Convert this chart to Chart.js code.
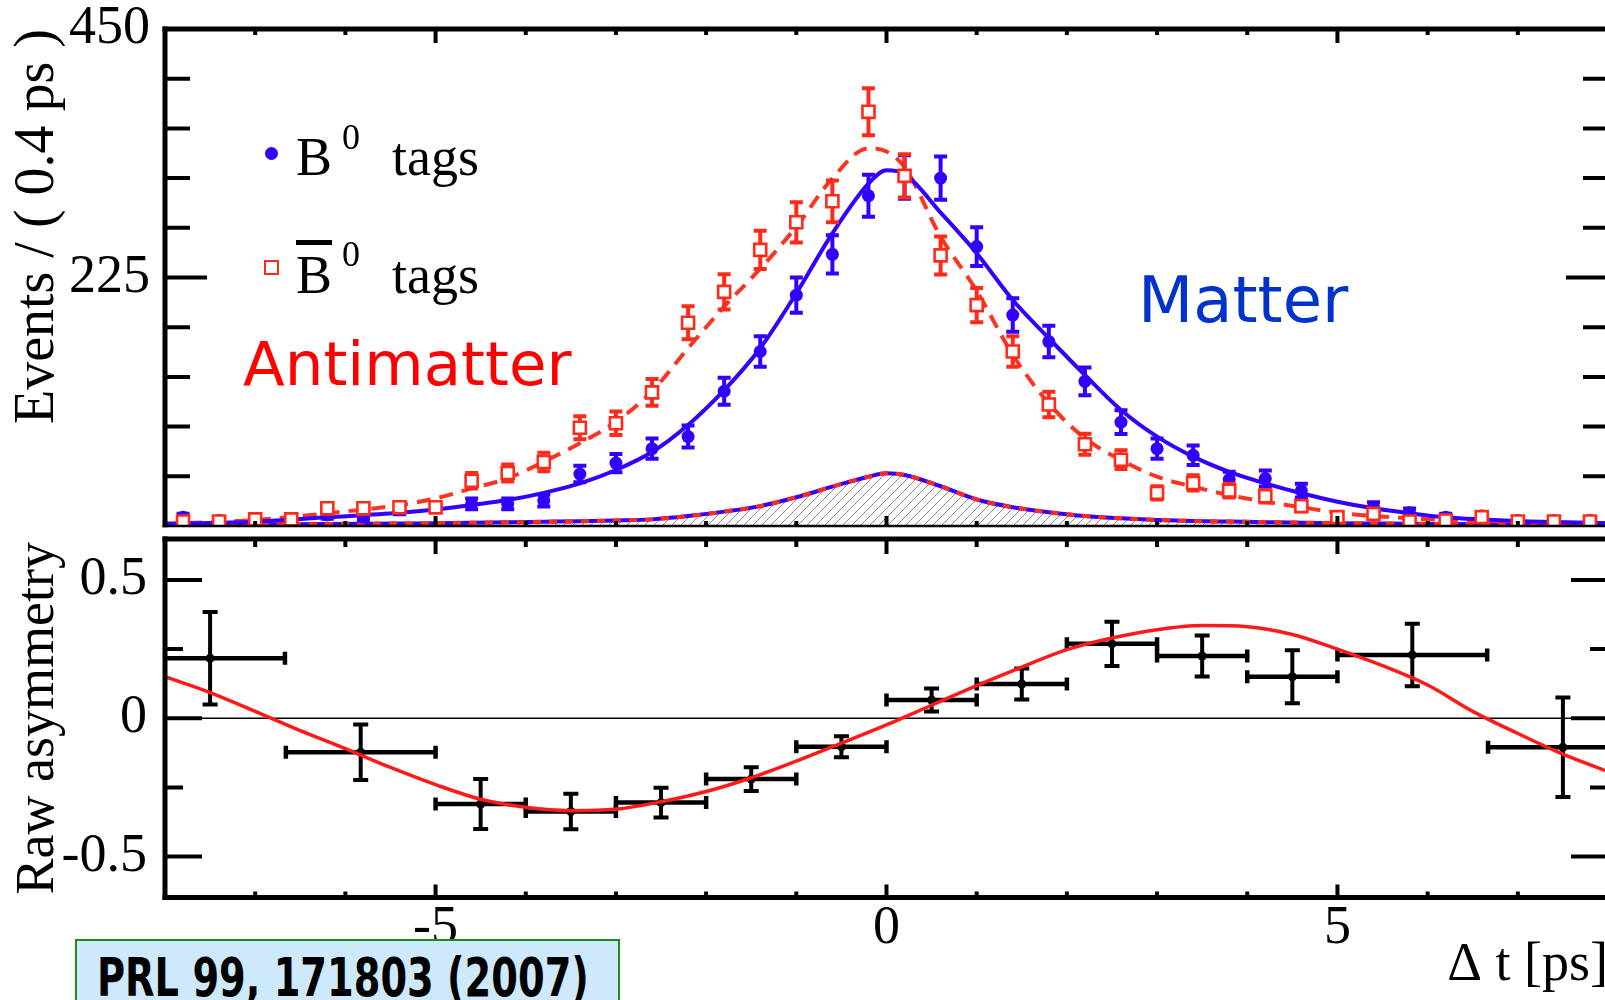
<!DOCTYPE html>
<html>
<head>
<meta charset="utf-8">
<script src="https://cdn.jsdelivr.net/npm/chart.js@4.4.1/dist/chart.umd.min.js"></script>
<style>
  html, body { margin: 0; padding: 0; background: #fff; width: 1605px; height: 1000px; overflow: hidden; }
  canvas { position: absolute; left: 0; top: 0; }
  .t { position: absolute; white-space: nowrap; line-height: 1; }
  .serif { font-family: 'Liberation Serif', 'DejaVu Serif', serif; color: #000; }
  .big { font-size: 54px; }
  .sup { font-size: 36px; }
  .hand { font-family: 'DejaVu Sans', sans-serif; }
  #ref { position: absolute; left: 75px; top: 939px; width: 541px; height: 80px;
         background: #cde9fb; border: 2px solid #1f8a1f; }
  #ref span { position: absolute; left: 20px; top: 10px; font: bold 54px/1 'DejaVu Sans', sans-serif;
              transform: scaleX(0.71); transform-origin: 0 0; color: #000; white-space: nowrap; }
</style>
</head>
<body>
<canvas id="rateChart" width="1620" height="1000" style="width:1620px;height:1000px"></canvas>
<canvas id="asymChart" width="1620" height="1000" style="width:1620px;height:1000px"></canvas>

<!-- legend -->
<div class="t" style="left:265px;top:147px;width:13px;height:13px;border-radius:50%;background:#3300ff"></div>
<div class="t serif big" style="left:296px;top:130px">B</div>
<div class="t serif sup" style="left:342px;top:119px">0</div>
<div class="t serif big" style="left:392px;top:130px">tags</div>
<div class="t" style="left:264px;top:260px;width:15px;height:15px;box-sizing:border-box;border:2.6px solid #ff2a1a;background:#fff"></div>
<div class="t serif big" style="left:296px;top:248px;text-decoration:overline;text-decoration-thickness:5px">B</div>
<div class="t serif sup" style="left:342px;top:236px">0</div>
<div class="t serif big" style="left:392px;top:248px">tags</div>

<div class="t hand" style="left:243px;top:333px;font-size:61px;color:#ff0000">Antimatter</div>
<div class="t hand" style="left:1138px;top:268px;font-size:64px;color:#0033cc">Matter</div>

<div id="ref"><span>PRL 99, 171803 (2007)</span></div>

<script>
const SERIF = "'Liberation Serif', 'DejaVu Serif', serif";
const BLUE = '#3300ff';
const RED = '#ff2a1a';

// 0.4 ps bins
const binCentres = [-7.8, -7.4, -7.0, -6.6, -6.2, -5.8, -5.4, -5.0, -4.6, -4.2, -3.8, -3.4, -3.0, -2.6, -2.2, -1.8, -1.4, -1.0, -0.6, -0.2,
                    0.2, 0.6, 1.0, 1.4, 1.8, 2.2, 2.6, 3.0, 3.4, 3.8, 4.2, 4.6, 5.0, 5.4, 5.8, 6.2, 6.6, 7.0, 7.4, 7.8];
const b0Tags = [8, 5, 3, 4, 10, 8, 15, 17, 20, 20, 23, 47, 57, 70, 81, 122, 158, 209, 246, 299,
                316, 315, 253, 191, 167, 131, 94, 70, 64, 42, 43, 32, 8, 17, 12, 8, 9, 5, 5, 5];
const b0Err = [3.1, 2.5, 1.9, 2.2, 3.5, 3.1, 4.3, 4.5, 4.9, 4.9, 5.3, 7.5, 8.3, 9.2, 9.9, 12.2, 13.8, 15.9, 17.3, 19,
               19.6, 19.5, 17.5, 15.2, 14.2, 12.6, 10.7, 9.2, 8.8, 7.1, 7.2, 6.2, 3.1, 4.5, 3.8, 3.1, 3.3, 2.5, 2.5, 2.5];
const b0barTags = [4, 4, 6, 6, 16, 16, 17, 17, 41, 48, 58, 89, 93, 121, 184, 212, 250, 275, 294, 375,
                   317, 245, 200, 158, 110, 74, 60, 30, 39, 32, 27, 18, 8, 11, 4, 5, 8, 4, 4, 4];
const b0barErr = [2.2, 2.2, 2.7, 2.7, 4.4, 4.4, 4.5, 4.5, 7, 7.6, 8.4, 10.4, 10.6, 12.1, 14.9, 16, 17.4, 18.2, 18.9, 21.3,
                  19.6, 17.2, 15.6, 13.8, 11.5, 9.5, 8.5, 6, 6.9, 6.2, 5.7, 4.7, 3.1, 3.6, 2.2, 2.5, 3.1, 2.2, 2.2, 2.2];

// fitted projections
const fitT = [-8.0, -7.0, -6.2, -5.4, -5.0, -4.6, -4.2, -3.8, -3.4, -3.0, -2.6, -2.2, -1.8, -1.4, -1.0, -0.6, -0.2, 0.0, 0.2, 0.6,
              1.0, 1.4, 1.8, 2.2, 2.6, 3.0, 3.4, 3.8, 4.2, 4.6, 5.0, 5.4, 5.8, 6.2, 7.0, 8.0];
const b0Fit = [2, 3.9, 7.9, 12, 15, 19, 23.5, 30, 38.6, 50.7, 67, 91.5, 123, 161, 210.7, 265, 310, 322, 318.7, 283.7,
               247, 204.6, 170, 136.7, 105, 80.9, 62.8, 49, 38.6, 29.6, 22, 16, 11.5, 7.9, 4.5, 2.5];
const b0barFit = [2, 5.4, 11.5, 19, 25, 34, 43.2, 58.2, 74.9, 94.4, 122, 161, 198.6, 233, 271, 314.8, 342, 339, 325, 262,
                  213, 155, 111, 79.4, 59.8, 44.6, 35.6, 28, 22, 17, 12, 9, 7, 5.4, 3.9, 2.5];
const bkgFit = [1, 1.4, 1.8, 2.3, 2.5, 3, 3.3, 3.8, 4.3, 5, 6, 9, 13, 18, 26, 35.6, 44.6, 47.7, 46.2, 36,
                24, 17, 12.5, 9, 7, 5.5, 4.5, 4, 3.5, 3, 2.6, 2.3, 2, 1.8, 1.4, 1];

// raw asymmetry, variable bins
const asymT = [-7.5, -5.83, -4.5, -3.5, -2.5, -1.5, -0.5, 0.5, 1.5, 2.5, 3.5, 4.5, 5.83, 7.5];
const asymHalfBin = [0.83, 0.83, 0.5, 0.5, 0.5, 0.5, 0.5, 0.5, 0.5, 0.5, 0.5, 0.5, 0.83, 0.83];
const asymVal = [0.217, -0.123, -0.31, -0.337, -0.305, -0.22, -0.103, 0.066, 0.124, 0.269, 0.225, 0.15, 0.229, -0.105];
const asymErr = [0.167, 0.10, 0.09, 0.064, 0.054, 0.043, 0.038, 0.042, 0.056, 0.08, 0.074, 0.096, 0.113, 0.18];
const asymFitT = [-8, -7.5, -7, -6.5, -6, -5.5, -5, -4.5, -4, -3.5, -3, -2.5, -2, -1.5, -1, -0.5, 0,
                  0.5, 1, 1.5, 2, 2.5, 3, 3.5, 4, 4.5, 5, 5.5, 6, 6.5, 7, 7.5, 8];
const asymFit = [0.150, 0.093, 0.025, -0.045, -0.11, -0.178, -0.24, -0.293, -0.322, -0.334, -0.329, -0.302, -0.265, -0.215, -0.155, -0.09, -0.024,
                 0.047, 0.118, 0.185, 0.248, 0.29, 0.32, 0.335, 0.331, 0.303, 0.25, 0.19, 0.12, 0.025, -0.055, -0.13, -0.193];

// axis ticks
const tTicks = [-7, -6, -5, -4, -3, -2, -1, 0, 1, 2, 3, 4, 5, 6, 7];
const tMajor = [-5, 0, 5];
const rateTicks = [45, 90, 135, 180, 225, 270, 315, 360, 405];
const rateMajor = [225];
const rateLabels = [225, 450];
const asymTicks = [0.5, 0.25, 0, -0.25, -0.5];
const asymMajor = [0.5, 0, -0.5];

const pts = (xs, ys) => xs.map((x, i) => ({x: x, y: ys[i]}));

function hatch() {
    const c = document.createElement('canvas');
    c.width = 9; c.height = 9;
    const g = c.getContext('2d');
    g.strokeStyle = '#8c8c8c';
    g.lineWidth = 1;
    g.beginPath();
    g.moveTo(0, 9); g.lineTo(9, 0);
    g.moveTo(-1, 1); g.lineTo(1, -1);
    g.moveTo(8, 10); g.lineTo(10, 8);
    g.stroke();
    return g.createPattern(c, 'repeat');
}

// keep axis boxes at fixed sizes, no extra room for end labels
function fixWidth(w) {
    return s => { s.width = w; s.paddingTop = 0; s.paddingBottom = 0; };
}
function fixHeight(h) {
    return s => { s.height = h; s.paddingLeft = 0; s.paddingRight = 0; };
}
const setTicks = vals => s => { s.ticks = vals.map(v => ({value: v})); };

// frame with inward ticks, drawn on top of everything
function framePlugin(cfg) {
    return {
        id: 'frame',
        beforeDatasetsDraw(chart) {
            if (!cfg.zeroLine) return;
            const {ctx, chartArea: a, scales: {y}} = chart;
            const py = y.getPixelForValue(0);
            ctx.save();
            ctx.strokeStyle = '#000';
            ctx.lineWidth = 1.6;
            ctx.beginPath();
            ctx.moveTo(a.left, py); ctx.lineTo(a.right, py);
            ctx.stroke();
            ctx.restore();
        },
        afterDraw(chart) {
            const {ctx, chartArea: a, scales: {x, y}} = chart;
            ctx.save();
            ctx.strokeStyle = '#000';
            ctx.lineWidth = 4;
            ctx.beginPath();
            cfg.yTicks.forEach(v => {
                const py = y.getPixelForValue(v);
                const len = cfg.yMajor.includes(v) ? cfg.yLen[1] : cfg.yLen[0];
                ctx.moveTo(a.left, py); ctx.lineTo(a.left + len, py);
                ctx.moveTo(a.right, py); ctx.lineTo(a.right - len, py);
            });
            tTicks.forEach(v => {
                const px = x.getPixelForValue(v);
                const major = tMajor.includes(v);
                ctx.moveTo(px, a.top); ctx.lineTo(px, a.top + (major ? cfg.topLen[1] : cfg.topLen[0]));
                ctx.moveTo(px, a.bottom); ctx.lineTo(px, a.bottom - (major ? cfg.botLen[1] : cfg.botLen[0]));
            });
            ctx.stroke();
            const f = cfg.frame; // top, right, bottom, left
            const side = (w, x1, y1, x2, y2) => {
                ctx.lineWidth = w;
                ctx.beginPath(); ctx.moveTo(x1, y1); ctx.lineTo(x2, y2); ctx.stroke();
            };
            side(f[0], a.left - f[3] / 2, a.top, a.right + f[1] / 2, a.top);
            side(f[1], a.right, a.top, a.right, a.bottom);
            side(f[2], a.left - f[3] / 2, a.bottom, a.right + f[1] / 2, a.bottom);
            side(f[3], a.left, a.top - f[0] / 2, a.left, a.bottom + f[2] / 2);
            ctx.restore();
        }
    };
}

// error bars go under the markers of their own dataset
const errorBars = {
    id: 'errorBars',
    beforeDatasetDraw(chart, args) {
        const ds = chart.data.datasets[args.index];
        if (!ds.yErr) return;
        const {ctx, chartArea: a, scales: {x, y}} = chart;
        ctx.save();
        ctx.beginPath();
        ctx.rect(a.left, a.top, a.right - a.left, a.bottom - a.top);
        ctx.clip();
        ctx.strokeStyle = ds.errColor;
        ds.data.forEach((p, i) => {
            const px = x.getPixelForValue(p.x);
            const py = y.getPixelForValue(p.y);
            const hi = y.getPixelForValue(p.y + ds.yErr[i]);
            const lo = y.getPixelForValue(p.y - ds.yErr[i]);
            const c = ds.capHalf;
            ctx.lineWidth = 4;
            ctx.beginPath();
            ctx.moveTo(px, hi); ctx.lineTo(px, lo);
            ctx.moveTo(px - c, hi); ctx.lineTo(px + c, hi);
            ctx.moveTo(px - c, lo); ctx.lineTo(px + c, lo);
            ctx.stroke();
            if (ds.xErr) {
                const l = x.getPixelForValue(p.x - ds.xErr[i]);
                const r = x.getPixelForValue(p.x + ds.xErr[i]);
                ctx.lineWidth = 4.5;
                ctx.beginPath();
                ctx.moveTo(l, py); ctx.lineTo(r, py);
                ctx.moveTo(l, py - 6.5); ctx.lineTo(l, py + 6.5);
                ctx.moveTo(r, py - 6.5); ctx.lineTo(r, py + 6.5);
                ctx.stroke();
            }
        });
        ctx.restore();
    }
};

Chart.defaults.font.family = SERIF;
Chart.defaults.color = '#000';

const common = {
    responsive: false,
    animation: false,
    events: [],
    plugins: {legend: {display: false}, tooltip: {enabled: false}}
};

// Events per 0.4 ps
new Chart(document.getElementById('rateChart'), {
    type: 'line',
    data: {
        datasets: [
            {data: pts(fitT, bkgFit), borderColor: BLUE, borderWidth: 4, fill: 'origin', backgroundColor: hatch(),
             pointRadius: 0, cubicInterpolationMode: 'monotone', order: 5},
            {data: pts(fitT, bkgFit), borderColor: RED, borderWidth: 4, borderDash: [8, 8], fill: false,
             pointRadius: 0, cubicInterpolationMode: 'monotone', order: 4},
            {data: pts(fitT, b0barFit), borderColor: '#ff3322', borderWidth: 4, borderDash: [14, 9], fill: false,
             pointRadius: 0, cubicInterpolationMode: 'monotone', order: 3},
            {data: pts(fitT, b0Fit), borderColor: BLUE, borderWidth: 4, fill: false,
             pointRadius: 0, cubicInterpolationMode: 'monotone', order: 2},
            {data: pts(binCentres, b0Tags), showLine: false, pointStyle: 'circle', pointRadius: 6.5,
             pointBackgroundColor: BLUE, pointBorderWidth: 0, yErr: b0Err, errColor: BLUE, capHalf: 6.5, order: 1},
            {data: pts(binCentres, b0barTags), showLine: false, pointStyle: 'rect', pointRadius: 8.5,
             pointBackgroundColor: '#fff', pointBorderColor: RED, pointBorderWidth: 2.6,
             yErr: b0barErr, errColor: RED, capHalf: 6.5, order: 0}
        ]
    },
    options: Object.assign({}, common, {
        layout: {padding: {top: 29, right: 12, bottom: 474, left: 0}},
        scales: {
            x: {type: 'linear', min: -8, max: 8, display: false},
            y: {
                type: 'linear', min: 0, max: 450,
                afterFit: fixWidth(165),
                afterBuildTicks: setTicks(rateLabels),
                grid: {display: false, drawTicks: false}, border: {display: false},
                ticks: {autoSkip: false, padding: 15, font: {size: 54}, callback: v => String(v)},
                title: {display: true, text: 'Events / ( 0.4 ps )', align: 'end',
                        font: {size: 56}, padding: {top: 5, bottom: 0}}
            }
        }
    }),
    plugins: [errorBars, framePlugin({
        yTicks: rateTicks, yMajor: rateMajor, yLen: [25, 42],
        topLen: [6, 14], botLen: [5, 10], frame: [5, 5, 2.5, 5]
    })]
});

// Raw asymmetry
new Chart(document.getElementById('asymChart'), {
    type: 'line',
    data: {
        datasets: [
            {data: pts(asymFitT, asymFit), borderColor: '#ff1a1a', borderWidth: 3.5, fill: false,
             pointRadius: 0, cubicInterpolationMode: 'monotone', order: 0},
            {data: pts(asymT, asymVal), showLine: false, pointStyle: 'circle', pointRadius: 4.5,
             pointBackgroundColor: '#000', pointBorderWidth: 0,
             yErr: asymErr, xErr: asymHalfBin, errColor: '#000', capHalf: 7.5, order: 1}
        ]
    },
    options: Object.assign({}, common, {
        layout: {padding: {top: 539, right: 12, bottom: 0, left: 0}},
        scales: {
            x: {
                type: 'linear', min: -8, max: 8,
                afterFit: fixHeight(102.5),
                afterBuildTicks: setTicks(tMajor),
                grid: {display: false, drawTicks: false}, border: {display: false},
                ticks: {autoSkip: false, maxRotation: 0, padding: -1, font: {size: 54}, callback: v => String(v)},
                title: {display: true, text: 'Δ t [ps]', align: 'end',
                        font: {size: 54, lineHeight: 1.0}, padding: {top: 0, bottom: 7}}
            },
            y: {
                type: 'linear', min: -0.648, max: 0.648,
                afterFit: fixWidth(165),
                afterBuildTicks: setTicks(asymMajor),
                grid: {display: false, drawTicks: false}, border: {display: false},
                ticks: {autoSkip: false, padding: 18, font: {size: 54}, callback: v => String(v)},
                title: {display: true, text: 'Raw asymmetry', align: 'center',
                        font: {size: 54}, padding: {top: 6.5, bottom: 0}}
            }
        }
    }),
    plugins: [errorBars, framePlugin({
        yTicks: asymTicks, yMajor: asymMajor, yLen: [18, 37],
        topLen: [8, 15], botLen: [6, 13], frame: [5, 5, 5, 5], zeroLine: true
    })]
});
</script>
</body>
</html>
